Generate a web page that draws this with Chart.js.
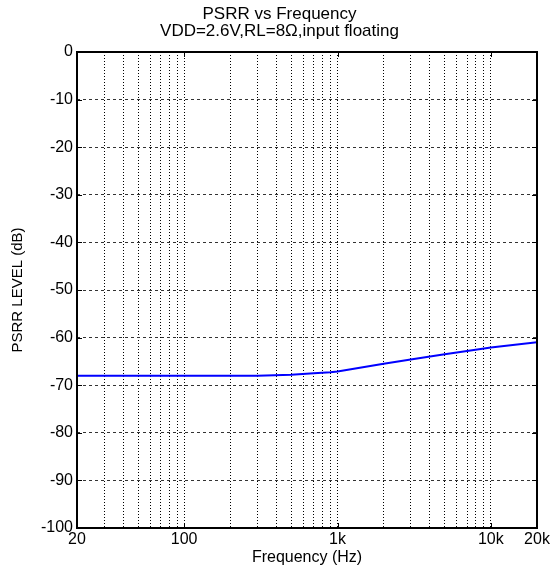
<!DOCTYPE html>
<html>
<head>
<meta charset="utf-8">
<script src="https://cdn.jsdelivr.net/npm/chart.js@4/dist/chart.umd.min.js"></script>
<style>
  body { margin: 0; background: #fff; }
  canvas { display: block; }
</style>
</head>
<body>
<canvas id="myChart" width="559" height="577"></canvas>
<script>
// PSRR measurement, VDD=2.6V, RL=8 ohm
var freq = [20, 50, 100, 200, 300, 500, 700, 900, 1000, 2000, 3000, 5000, 7000, 10000, 20000];
var psrr = [-68, -68, -68, -68, -68, -67.8, -67.5, -67.3, -67.1, -65.5, -64.6, -63.5, -62.8, -62.1, -61];

var xLabels = [20, 100, 1000, 10000, 20000];
var xLabelText = ["20", "100", "1k", "10k", "20k"];
var gridFreqs = [20, 30, 40, 50, 60, 70, 80, 90,
  100, 200, 300, 400, 500, 600, 700, 800, 900,
  1000, 2000, 3000, 4000, 5000, 6000, 7000, 8000, 9000,
  10000, 20000];
var yTicks = [0, -10, -20, -30, -40, -50, -60, -70, -80, -90, -100];

var FONT = "Arial, 'Liberation Sans', sans-serif";

// box around the plot plus short inward tick marks
var frame = {
  id: 'frame',
  afterDraw: function(chart) {
    var ctx = chart.ctx, a = chart.chartArea;
    var xs = chart.scales.x, ys = chart.scales.y;
    ctx.save();
    ctx.strokeStyle = '#000';
    ctx.lineWidth = 1;
    ctx.beginPath();
    yTicks.forEach(function(v) {
      var y = Math.round(ys.getPixelForValue(v)) + 0.5;
      ctx.moveTo(a.left, y); ctx.lineTo(a.left + 5, y);
      ctx.moveTo(a.right, y); ctx.lineTo(a.right - 5, y);
    });
    xLabels.forEach(function(v) {
      var x = Math.round(xs.getPixelForValue(v)) + 0.5;
      ctx.moveTo(x, a.bottom); ctx.lineTo(x, a.bottom - 5);
      ctx.moveTo(x, a.top); ctx.lineTo(x, a.top + 5);
    });
    ctx.stroke();
    ctx.lineWidth = 2;
    ctx.strokeRect(a.left, a.top, a.right - a.left, a.bottom - a.top);
    ctx.restore();
  }
};

var ctxL = document.getElementById("myChart").getContext('2d');
var chart = new Chart(ctxL, {
  type: 'line',
  data: {
    datasets: [{
      data: freq.map(function(f, i) { return {x: f, y: psrr[i]}; }),
      borderColor: '#0000ff',
      borderWidth: 2,
      pointRadius: 0,
      tension: 0,
      fill: false
    }]
  },
  options: {
    responsive: false,
    animation: false,
    layout: { padding: 0 },
    plugins: {
      legend: { display: false },
      tooltip: { enabled: false },
      title: {
        display: true,
        text: ['PSRR vs Frequency', 'VDD=2.6V,RL=8\u03A9,input floating'],
        color: '#000',
        font: { family: FONT, size: 17, weight: 'normal', lineHeight: 1 },
        padding: { top: 6, bottom: 12 }
      }
    },
    scales: {
      x: {
        type: 'logarithmic',
        min: 20,
        max: 20000,
        afterBuildTicks: function(scale) {
          scale.ticks = gridFreqs.map(function(v) { return {value: v}; });
        },
        afterFit: function(scale) { scale.height = 49; },
        ticks: {
          autoSkip: false,
          maxRotation: 0,
          padding: 2,
          color: '#000',
          font: { family: FONT, size: 16 },
          callback: function(v) {
            var i = xLabels.indexOf(v);
            return i >= 0 ? xLabelText[i] : '';
          }
        },
        grid: { color: '#000', lineWidth: 1, drawTicks: false },
        border: { display: false, dash: [1, 2] },
        title: {
          display: true,
          text: 'Frequency (Hz)',
          color: '#000',
          font: { family: FONT, size: 16, lineHeight: 1.2 },
          padding: { top: 0, bottom: 10 }
        }
      },
      y: {
        min: -100,
        max: 0,
        afterBuildTicks: function(scale) {
          scale.ticks = yTicks.map(function(v) { return {value: v}; });
        },
        afterFit: function(scale) { scale.width = 77; },
        ticks: {
          padding: 4,
          color: '#000',
          font: { family: FONT, size: 16 }
        },
        grid: { color: '#333', lineWidth: 1, drawTicks: false },
        border: { display: false, dash: [3, 3] },
        title: {
          display: true,
          text: 'PSRR LEVEL (dB)',
          color: '#000',
          font: { family: FONT, size: 15, lineHeight: 1.2 },
          padding: { top: 9, bottom: 0 }
        }
      },
      // empty strip on the right so the title centres on the whole canvas
      yRight: {
        position: 'right',
        min: -100,
        max: 0,
        afterFit: function(scale) { scale.width = 22; },
        ticks: { display: false },
        grid: { display: false, drawTicks: false },
        border: { display: false }
      }
    }
  },
  plugins: [frame]
});
</script>
</body>
</html>
